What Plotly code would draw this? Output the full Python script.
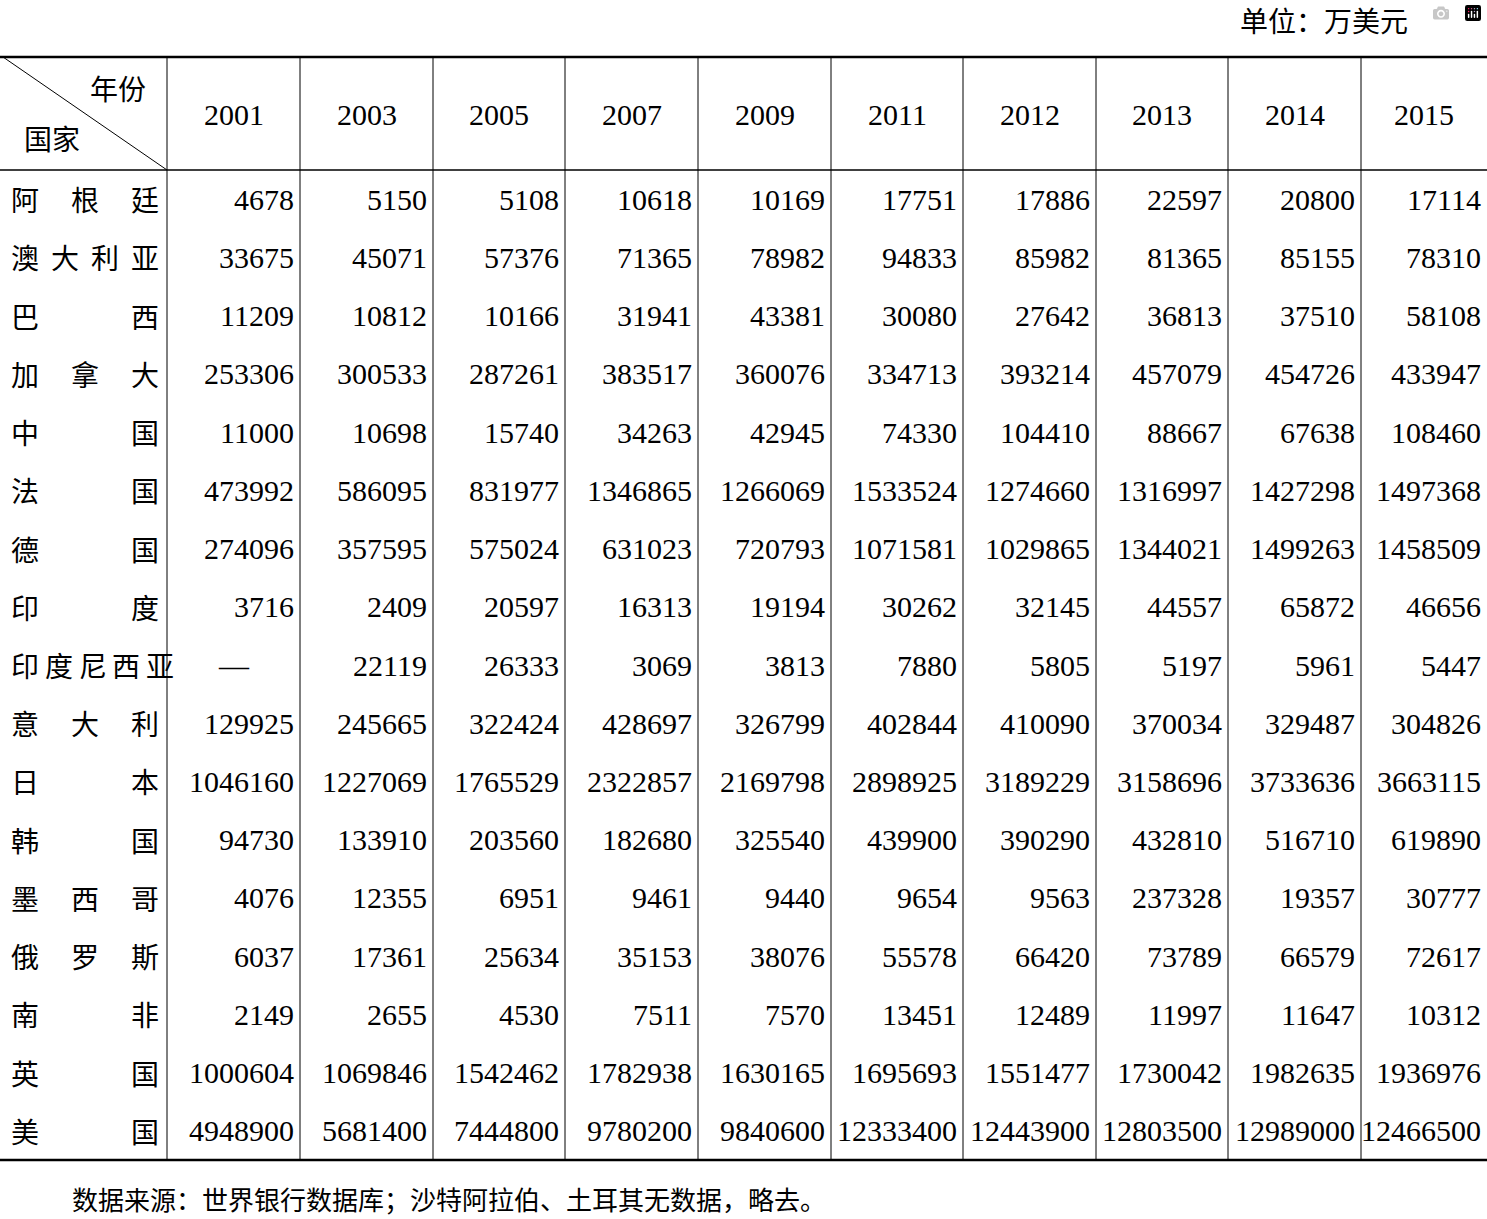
import plotly.graph_objects as go

years = ["2001","2003","2005","2007","2009","2011","2012","2013","2014","2015"]
countries = ["阿根廷","澳大利亚","巴西","加拿大","中国","法国","德国","印度","印度尼西亚","意大利","日本","韩国","墨西哥","俄罗斯","南非","英国","美国"]
argentina = ["4678","5150","5108","10618","10169","17751","17886","22597","20800","17114"]
australia = ["33675","45071","57376","71365","78982","94833","85982","81365","85155","78310"]
brazil = ["11209","10812","10166","31941","43381","30080","27642","36813","37510","58108"]
canada = ["253306","300533","287261","383517","360076","334713","393214","457079","454726","433947"]
china = ["11000","10698","15740","34263","42945","74330","104410","88667","67638","108460"]
france = ["473992","586095","831977","1346865","1266069","1533524","1274660","1316997","1427298","1497368"]
germany = ["274096","357595","575024","631023","720793","1071581","1029865","1344021","1499263","1458509"]
india = ["3716","2409","20597","16313","19194","30262","32145","44557","65872","46656"]
indonesia = ["—","22119","26333","3069","3813","7880","5805","5197","5961","5447"]
italy = ["129925","245665","322424","428697","326799","402844","410090","370034","329487","304826"]
japan = ["1046160","1227069","1765529","2322857","2169798","2898925","3189229","3158696","3733636","3663115"]
korea = ["94730","133910","203560","182680","325540","439900","390290","432810","516710","619890"]
mexico = ["4076","12355","6951","9461","9440","9654","9563","237328","19357","30777"]
russia = ["6037","17361","25634","35153","38076","55578","66420","73789","66579","72617"]
safrica = ["2149","2655","4530","7511","7570","13451","12489","11997","11647","10312"]
uk = ["1000604","1069846","1542462","1782938","1630165","1695693","1551477","1730042","1982635","1936976"]
usa = ["4948900","5681400","7444800","9780200","9840600","12333400","12443900","12803500","12989000","12466500"]
rows = [argentina,australia,brazil,canada,china,france,germany,india,indonesia,italy,japan,korea,mexico,russia,safrica,uk,usa]
unit_text = "单位：万美元"
source_text = "数据来源：世界银行数据库；沙特阿拉伯、土耳其无数据，略去。"

W, H = 1487, 1219
col_edges = [167,300,433,565,698,831,963,1096,1228,1361,1487]
top, head_bot, bot = 57, 170, 1160
row_h = (bot - head_bot) / len(countries)
SERIF = "Liberation Serif, Times New Roman, serif"
CJK = "Noto Sans CJK SC"
FS = 30

fig = go.Figure()
ann = []
shapes = []
shapes.append(dict(type="line", x0=0, x1=W, y0=top, y1=top, line=dict(color="black", width=2.5)))
shapes.append(dict(type="line", x0=0, x1=W, y0=head_bot, y1=head_bot, line=dict(color="black", width=1.5)))
shapes.append(dict(type="line", x0=0, x1=W, y0=bot, y1=bot, line=dict(color="black", width=2.5)))
shapes.append(dict(type="line", x0=3, x1=167, y0=top, y1=head_bot, line=dict(color="black", width=1)))
for x in col_edges[:-1]:
    shapes.append(dict(type="line", x0=x, x1=x, y0=top, y1=bot, line=dict(color="black", width=1)))

ann.append(dict(x=118, y=88, text="年份", font=dict(family=CJK, size=28)))
ann.append(dict(x=52, y=138, text="国家", font=dict(family=CJK, size=28)))
for i, yv in enumerate(years):
    ann.append(dict(x=(col_edges[i]+col_edges[i+1])/2, y=114, text=yv, font=dict(family=SERIF, size=FS)))

for r, (name, vals) in enumerate(zip(countries, rows)):
    yc = head_bot + row_h*(r+0.5)
    n = len(name)
    if n == 5:
        xs = [25 + k*(135/4) for k in range(5)]
    else:
        xs = [25 + k*(120/(n-1)) for k in range(n)]
    for ch, xc in zip(name, xs):
        ann.append(dict(x=xc, y=yc, text=ch, font=dict(family=CJK, size=28)))
    for i, v in enumerate(vals):
        if v == "—":
            ann.append(dict(x=(col_edges[i]+col_edges[i+1])/2, y=yc, text=v, font=dict(family=SERIF, size=FS)))
        else:
            ann.append(dict(x=col_edges[i+1]-4, y=yc, text=v, xanchor="right", font=dict(family=SERIF, size=FS)))

ann.append(dict(x=1410, y=20, text=unit_text, xanchor="right", font=dict(family=CJK, size=28)))
ann.append(dict(x=70, y=1198, text=source_text, xanchor="left", font=dict(family=CJK, size=26)))
for a in ann:
    a.setdefault("xanchor", "center")
    a.update(xref="x", yref="y", showarrow=False, yanchor="middle")
    a["font"]["color"] = "black"

fig.update_layout(width=W, height=H, margin=dict(l=0, r=0, t=0, b=0),
                  plot_bgcolor="white", paper_bgcolor="white",
                  annotations=ann, shapes=shapes,
                  xaxis=dict(range=[0, W], visible=False, fixedrange=True),
                  yaxis=dict(range=[H, 0], visible=False, fixedrange=True),
                  showlegend=False)
fig.write_html("out.html")
with open("out.html", encoding="utf-8") as f:
    html = f.read()
html = html.replace("<body>", '<body style="margin:0;overflow:hidden">', 1)
with open("out.html", "w", encoding="utf-8") as f:
    f.write(html)
